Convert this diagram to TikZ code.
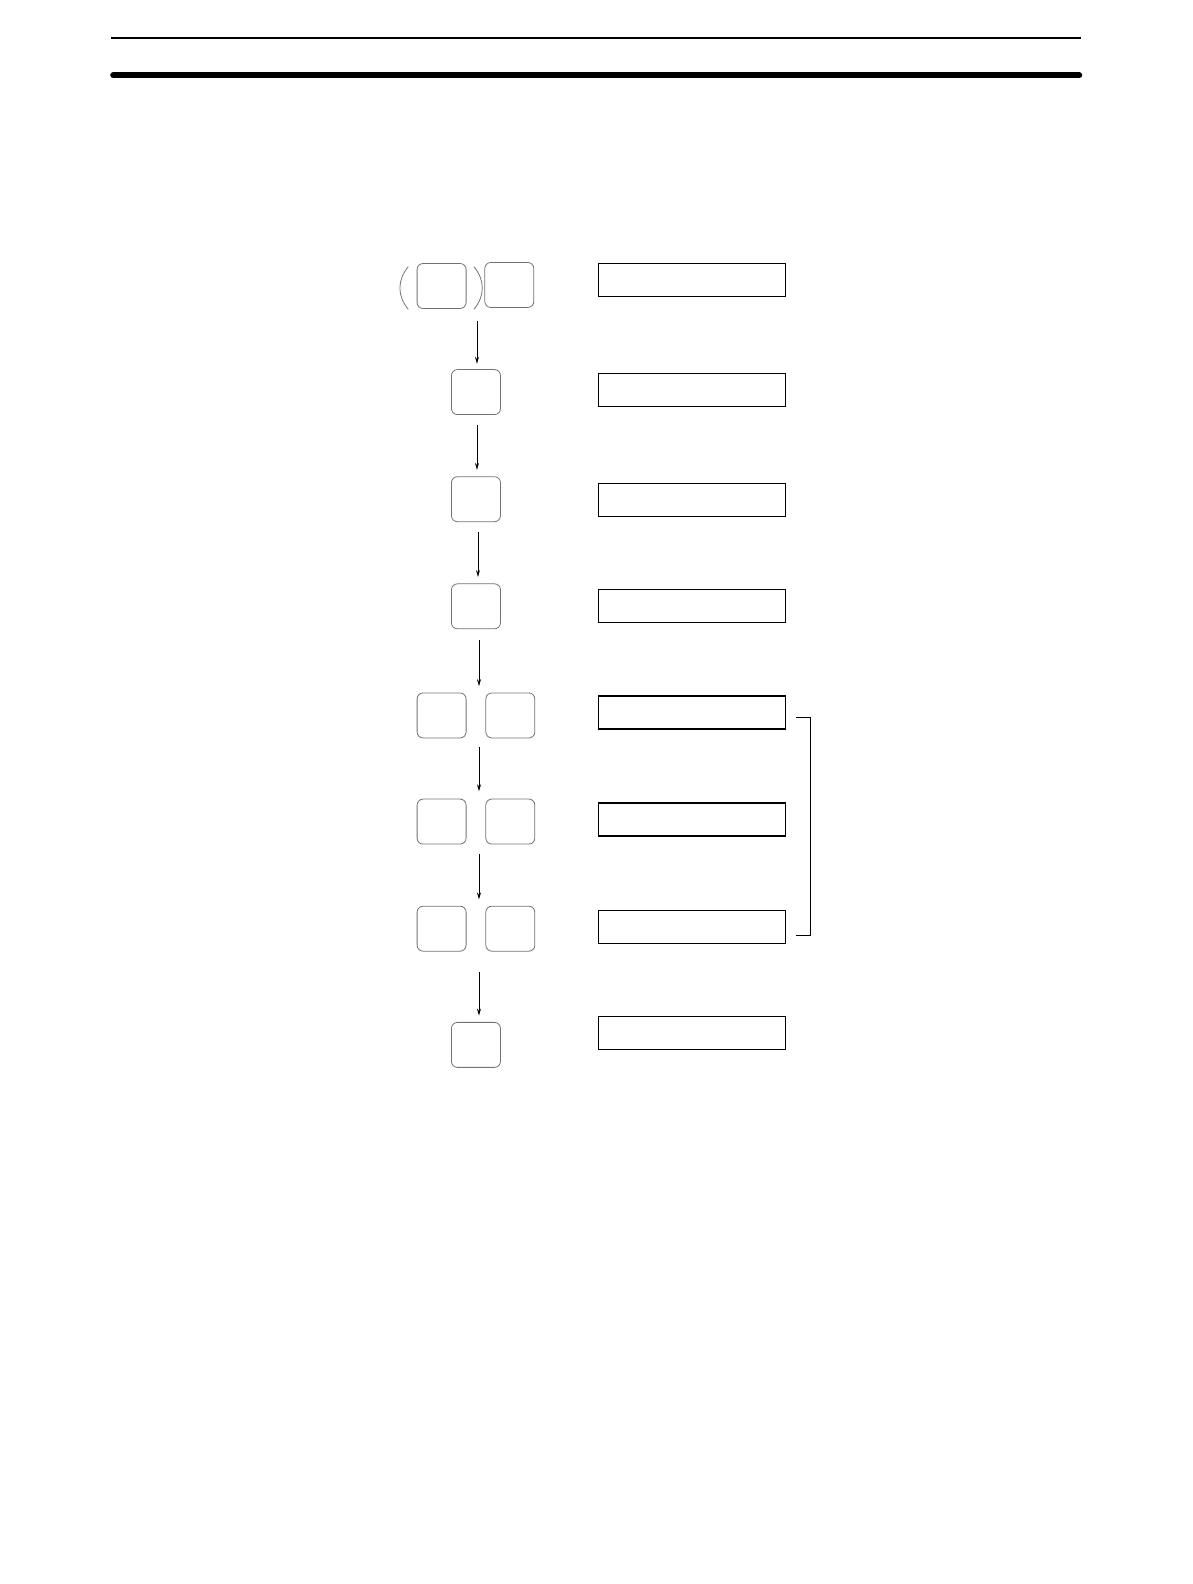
\documentclass[tikz,border=0pt]{standalone}
\usetikzlibrary{arrows.meta}
\begin{document}
\begin{tikzpicture}[x=1.0105pt,y=-1.0105pt,
  keybox/.style={draw=black!55,line width=0.8pt,rounded corners=6pt,minimum width=49pt,minimum height=45pt,inner sep=0pt},
  dispbox/.style={draw=black,line width=1.3pt,minimum width=187pt,minimum height=33pt,inner sep=0pt},
  flow/.style={line width=0.8pt,-{Stealth[length=7pt,width=4pt]}}]
\useasboundingbox (0,0) rectangle (1179.6,1567.5);
% header rules
\coordinate (r1a) at (110,37.5); \coordinate (r1b) at (1070,37.5);
\coordinate (r2a) at (112,74.5); \coordinate (r2b) at (1068,74.5);
\draw[line width=2pt] (r1a) -- (r1b);
\draw[line width=6pt,line cap=round] (r2a) -- (r2b);
% keys
\node[keybox] (k1a) at (437,283) {};
\node[keybox] (k1b) at (504,282) {};
\node[keybox] (k2) at (471,388) {};
\node[keybox] (k3) at (471,494) {};
\node[keybox] (k4) at (471,600) {};
\node[keybox] (k5a) at (437,708) {};
\node[keybox] (k5b) at (505,708) {};
\node[keybox] (k6a) at (437,813) {};
\node[keybox] (k6b) at (505,813) {};
\node[keybox] (k7a) at (437,919) {};
\node[keybox] (k7b) at (505,919) {};
\node[keybox] (k8) at (471,1034) {};
% parentheses
\draw[black!55,line width=0.8pt] (404,264) .. controls (393,277) and (393,293) .. (404,306);
\draw[black!55,line width=0.8pt] (469,264) .. controls (480,277) and (480,293) .. (469,306);
% display boxes
\node[dispbox] (d1) at (685,277) {};
\node[dispbox] (d2) at (685,386) {};
\node[dispbox] (d3) at (685,495) {};
\node[dispbox] (d4) at (685,600) {};
\node[dispbox] (d5) at (685,705) {};
\node[dispbox] (d6) at (685,811) {};
\node[dispbox] (d7) at (685,917) {};
\node[dispbox] (d8) at (685,1022) {};
% arrows
\coordinate (a1s) at (472,318); \coordinate (a1e) at (472,360);
\coordinate (a2s) at (472,421); \coordinate (a2e) at (472,465);
\coordinate (a3s) at (473,526); \coordinate (a3e) at (473,571);
\coordinate (a4s) at (474,633); \coordinate (a4e) at (474,679);
\coordinate (a5s) at (474,739); \coordinate (a5e) at (474,783);
\coordinate (a6s) at (474,845); \coordinate (a6e) at (474,890);
\coordinate (a7s) at (474,962); \coordinate (a7e) at (474,1005);
\foreach \i in {1,...,7} {\draw[flow] (a\i s) -- (a\i e);}
% bracket
\coordinate (b1) at (788,710); \coordinate (b2) at (802,710);
\coordinate (b3) at (802,926); \coordinate (b4) at (788,926);
\draw[line width=1.2pt] (b1) -- (b2) -- (b3) -- (b4);
\end{tikzpicture}
\end{document}
